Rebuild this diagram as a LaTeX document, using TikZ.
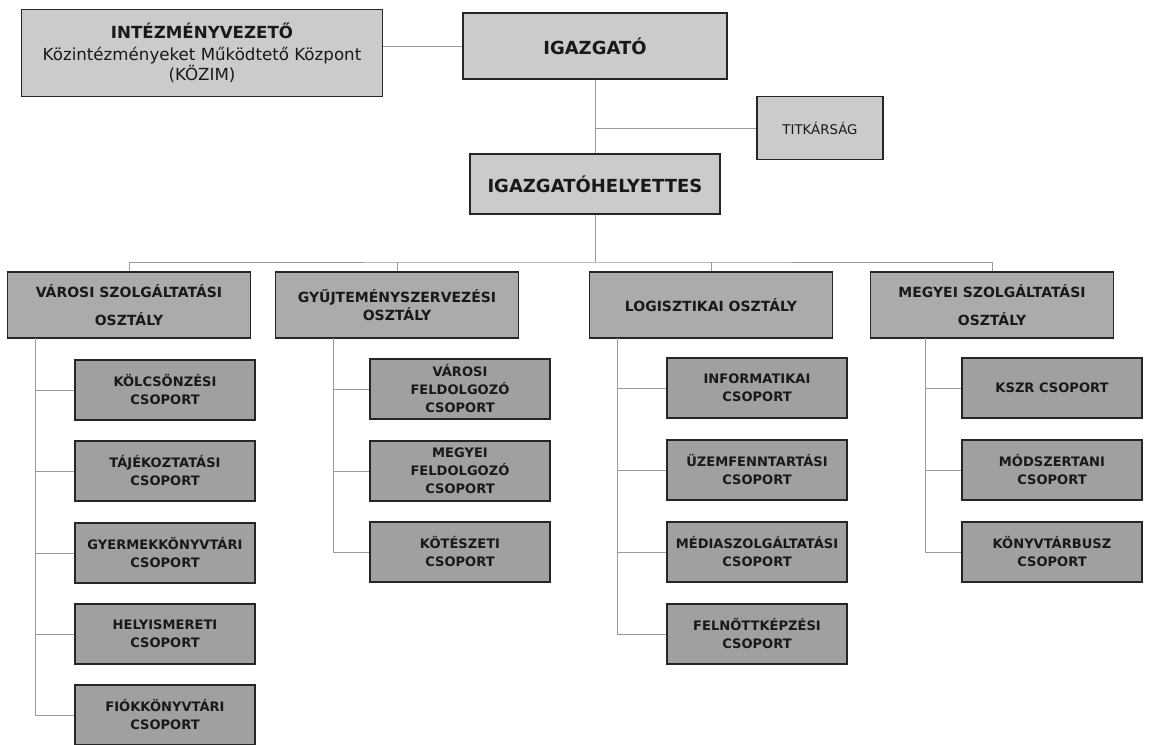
\documentclass[tikz,border=0pt]{standalone}
\usepackage{fontspec}
\setmainfont{DejaVu Sans}
\usepackage{tikz}

\definecolor{topgray}{HTML}{CBCBCB}
\definecolor{deptgray}{HTML}{ABABAB}
\definecolor{groupgray}{HTML}{A0A0A0}
\definecolor{linegray}{HTML}{9A9A9A}

\tikzset{
  box/.style={draw=black!85, line width=1.4pt, align=center, inner sep=2pt, text=black!90},
  topbox/.style={box, fill=topgray, font=\bfseries\fontsize{13.5}{15}\selectfont},
  deptbox/.style={box, fill=deptgray, minimum width=182.25pt, minimum height=49.5pt, font=\bfseries\fontsize{10.5}{14}\selectfont},
  groupbox/.style={box, fill=groupgray, minimum width=135pt, minimum height=45pt, font=\bfseries\fontsize{9.8}{13.5}\selectfont},
  conn/.style={draw=linegray, line width=0.6pt}
}

\begin{document}
\begin{tikzpicture}[x=0.75pt, y=-0.75pt]
  \useasboundingbox (0,0) rectangle (1157,744);

  % Vezetes
  \node[topbox, minimum width=270.75pt, minimum height=65.25pt, font=\bfseries\fontsize{12.5}{15}\selectfont] (intez) at (202,53)
    {INTÉZMÉNYVEZETŐ\\[1pt]{\mdseries\fontsize{12.5}{15}\selectfont Közintézményeket Működtető Központ}\\{\mdseries\fontsize{12.5}{15}\selectfont (KÖZIM)}};
  \node[topbox, minimum width=198pt, minimum height=49.5pt] (igazgato) at (595,46) {IGAZGATÓ};
  \node[topbox, minimum width=94.5pt, minimum height=47.25pt, font=\fontsize{10}{12}\selectfont] (titkar) at (820,128) {TITKÁRSÁG};
  \node[topbox, minimum width=187.5pt, minimum height=45pt] (helyettes) at (595,184) {IGAZGATÓHELYETTES};

  % Osztalyok
  \node[deptbox] (varosi) at (129,305) {VÁROSI SZOLGÁLTATÁSI\\[7pt]OSZTÁLY};
  \node[deptbox] (gyujt) at (397,305) {GYŰJTEMÉNYSZERVEZÉSI\\OSZTÁLY};
  \node[deptbox] (logiszt) at (711,305) {LOGISZTIKAI OSZTÁLY};
  \node[deptbox] (megyei) at (992,305) {MEGYEI SZOLGÁLTATÁSI\\[7pt]OSZTÁLY};

  % Csoportok
  \node[groupbox] (kolcs) at (165,390) {KÖLCSÖNZÉSI\\CSOPORT};
  \node[groupbox] (tajek) at (165,471) {TÁJÉKOZTATÁSI\\CSOPORT};
  \node[groupbox] (gyerm) at (165,553) {GYERMEKKÖNYVTÁRI\\CSOPORT};
  \node[groupbox] (helyism) at (165,634) {HELYISMERETI\\CSOPORT};
  \node[groupbox] (fiok) at (165,715) {FIÓKKÖNYVTÁRI\\CSOPORT};

  \node[groupbox] (vfeld) at (460,389) {VÁROSI\\FELDOLGOZÓ\\CSOPORT};
  \node[groupbox] (mfeld) at (460,471) {MEGYEI\\FELDOLGOZÓ\\CSOPORT};
  \node[groupbox] (kotesz) at (460,552) {KÖTÉSZETI\\CSOPORT};

  \node[groupbox] (inform) at (757,388) {INFORMATIKAI\\CSOPORT};
  \node[groupbox] (uzem) at (757,470) {ÜZEMFENNTARTÁSI\\CSOPORT};
  \node[groupbox] (media) at (757,552) {MÉDIASZOLGÁLTATÁSI\\CSOPORT};
  \node[groupbox] (felnott) at (757,634) {FELNŐTTKÉPZÉSI\\CSOPORT};

  \node[groupbox] (kszr) at (1052,388) {KSZR CSOPORT};
  \node[groupbox] (modsz) at (1052,470) {MÓDSZERTANI\\CSOPORT};
  \node[groupbox] (busz) at (1052,552) {KÖNYVTÁRBUSZ\\CSOPORT};

  % Vonalak
  \coordinate (bus) at (595,262);
  \coordinate (vtop) at (35,338);
  \coordinate (gtop) at (333,338);
  \coordinate (ltop) at (617,338);
  \coordinate (mtop) at (925,338);

  \draw[conn] (igazgato.west) -- (igazgato.west -| intez.east);
  \draw[conn] (igazgato) -- (helyettes);
  \draw[conn] (titkar.west) -- (titkar.west -| igazgato.south);
  \draw[conn] (helyettes.south) -- (bus);
  \draw[conn] (varosi.north) |- (bus) -| (megyei.north);
  \draw[conn] (gyujt.north) -- (gyujt.north |- bus);
  \draw[conn] (logiszt.north) -- (logiszt.north |- bus);

  \foreach \c in {kolcs,tajek,gyerm,helyism,fiok} \draw[conn] (vtop) |- (\c.west);
  \foreach \c in {vfeld,mfeld,kotesz} \draw[conn] (gtop) |- (\c.west);
  \foreach \c in {inform,uzem,media,felnott} \draw[conn] (ltop) |- (\c.west);
  \foreach \c in {kszr,modsz,busz} \draw[conn] (mtop) |- (\c.west);
\end{tikzpicture}
\end{document}
